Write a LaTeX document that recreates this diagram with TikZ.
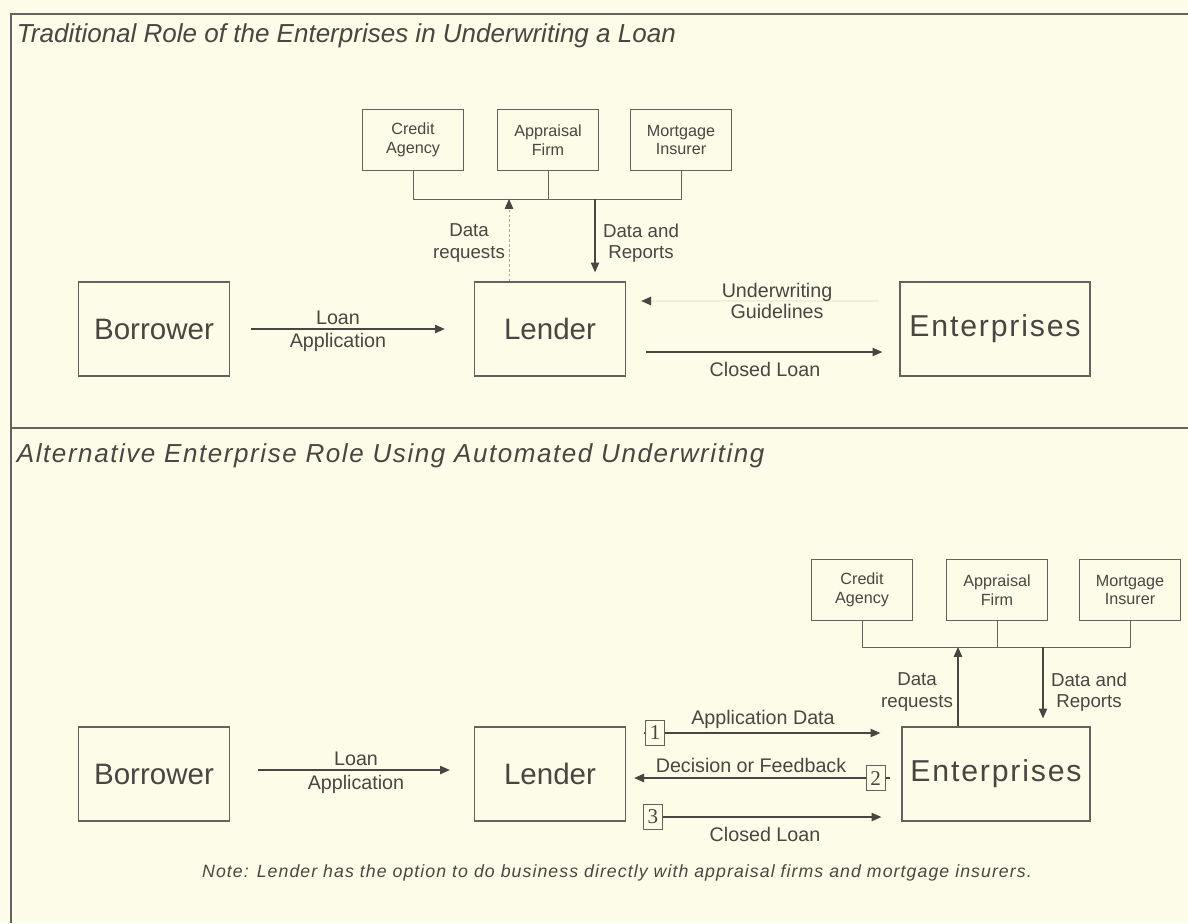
\documentclass[tikz,border=0pt]{standalone}
\usepackage{fontspec}
\setmainfont{Liberation Sans}
\newfontfamily\digitfont{Liberation Serif}
\newfontfamily\widefont[LetterSpace=6]{Liberation Sans}
\usepackage{xcolor}
\usetikzlibrary{arrows.meta}
\definecolor{paper}{HTML}{FDFCE9}
\definecolor{ink}{HTML}{4A4541}
\definecolor{rule}{HTML}{66615C}
\definecolor{pale}{HTML}{A9A59C}
\definecolor{ghost}{HTML}{F1EFDC}
\tikzset{
  bigbox/.style={draw=rule, line width=0.9pt, text=ink, font=\fontsize{21}{24}\selectfont},
  widebox/.style={bigbox, font=\widefont\fontsize{21.5}{24}\selectfont},
  smallbox/.style={draw=rule, line width=0.8pt, text=ink, align=center,
    minimum width=2.525cm, minimum height=1.525cm, font=\fontsize{11.5}{13.5}\selectfont},
  numbox/.style={draw=rule, line width=0.8pt, fill=paper, text=ink, inner sep=0pt,
    minimum width=0.475cm, minimum height=0.625cm, font=\digitfont\fontsize{15}{15}\selectfont},
  link/.style={draw=rule, line width=0.7pt},
  flow/.style={draw=ink, line width=0.8pt, -{Triangle[length=7pt,width=6pt]}},
  faintflow/.style={draw=pale, line width=0.7pt, dash pattern=on 2pt off 1.5pt,
    -{Triangle[length=7pt,width=6pt,color=ink]}},
  lab/.style={text=ink, align=center, font=\fontsize{14}{15.5}\selectfont},
  datalab/.style={text=ink, align=center, font=\fontsize{13.3}{15}\selectfont},
  heading/.style={text=ink, anchor=west, font=\itshape\fontsize{18.5}{20}\selectfont},
  note/.style={text=ink, font=\widefont\itshape\fontsize{12.6}{14}\selectfont},
}

\begin{document}
\begin{tikzpicture}[x=0.025cm, y=-0.025cm]
  \useasboundingbox (0,0) rectangle (1188,923);
  \fill[paper] (0,0) rectangle (1188,923);

  % frame and panel divider
  \draw[rule, line width=0.9pt] (1188,14) -- (11,14) -- (11,923);
  \draw[rule, line width=0.9pt] (11,428) -- (1188,428);

  % ---- traditional role ----
  \node[heading] (headA) at (12,36) {Traditional Role of the Enterprises in Underwriting a Loan};

  \node[bigbox, minimum width=3.775cm, minimum height=2.35cm] (borrowerA) at (154,329) {Borrower};
  \node[bigbox, minimum width=3.775cm, minimum height=2.35cm] (lenderA) at (550,329) {Lender};
  \node[widebox, minimum width=4.75cm, minimum height=2.35cm] (enterA) at (995,329) {Enterprises};

  \node[smallbox] (creditA) at (413,140) {Credit\\Agency};
  \node[smallbox] (apprA) at (548,140) {Appraisal\\Firm};
  \node[smallbox] (mortA) at (681,140) {Mortgage\\Insurer};

  \coordinate (busA) at (0,199);
  \draw[link] (creditA.south) -- (creditA.south |- busA) -- (mortA.south |- busA) -- (mortA.south);
  \draw[link] (apprA.south) -- (apprA.south |- busA);

  \coordinate (reqA) at ([xshift=-1.025cm]lenderA.north);
  \coordinate (repA) at ([xshift=1.125cm]lenderA.north);
  \draw[faintflow] (reqA) -- (reqA |- busA);
  \draw[flow] (repA |- busA) -- ([yshift=0.225cm]repA);
  \node[datalab] (reqlabA) at (469,243) {Data\\requests};
  \node[datalab] (replabA) at (641,243) {Data and\\Reports};

  \draw[flow, shorten <=0.525cm, shorten >=0.725cm] (borrowerA.east) -- (lenderA.west);
  \node[lab] (loanA) at (338,318) {Loan};
  \node[lab] (applA) at (338,342) {Application};

  \draw[flow, draw=ghost, -{Triangle[length=7pt,width=6pt,color=ink]},
        shorten <=0.5cm, shorten >=0.375cm]
    ([yshift=0.7cm]enterA.west) -- ([yshift=0.7cm]lenderA.east);
  \node[lab] (guideA) at (777,301) {Underwriting\\Guidelines};

  \draw[flow, shorten <=0.5cm, shorten >=0.425cm]
    ([yshift=-0.575cm]lenderA.east) -- ([yshift=-0.575cm]enterA.west);
  \node[lab] (closedA) at (765,369) {Closed Loan};

  % ---- automated underwriting ----
  \node[heading, font=\widefont\itshape\fontsize{18.5}{20}\selectfont] (headB) at (12,456)
    {Alternative Enterprise Role Using Automated Underwriting};

  \node[bigbox, minimum width=3.775cm, minimum height=2.35cm] (borrowerB) at (154,774) {Borrower};
  \node[bigbox, minimum width=3.775cm, minimum height=2.35cm] (lenderB) at (550,774) {Lender};
  \node[widebox, minimum width=4.7cm, minimum height=2.35cm] (enterB) at (996,774) {Enterprises};

  \node[smallbox] (creditB) at (862,590) {Credit\\Agency};
  \node[smallbox] (apprB) at (997,590) {Appraisal\\Firm};
  \node[smallbox] (mortB) at (1130,590) {Mortgage\\Insurer};

  \coordinate (busB) at (0,647);
  \draw[link] (creditB.south) -- (creditB.south |- busB) -- (mortB.south |- busB) -- (mortB.south);
  \draw[link] (apprB.south) -- (apprB.south |- busB);

  \coordinate (reqB) at ([xshift=-0.95cm]enterB.north);
  \coordinate (repB) at ([xshift=1.175cm]enterB.north);
  \draw[flow] (reqB) -- (reqB |- busB);
  \draw[flow] (repB |- busB) -- ([yshift=0.2cm]repB);
  \node[datalab] (reqlabB) at (917,692) {Data\\requests};
  \node[datalab] (replabB) at (1089,692) {Data and\\Reports};

  \draw[flow, shorten <=0.7cm, shorten >=0.6cm]
    ([yshift=0.1cm]borrowerB.east) -- ([yshift=0.1cm]lenderB.west);
  \node[lab] (loanB) at (356,759) {Loan};
  \node[lab] (applB) at (356,784) {Application};

  \draw[flow, shorten <=0.45cm, shorten >=0.525cm]
    ([yshift=1.025cm]lenderB.east) -- node[numbox, pos=0.105] (oneB) {1} ([yshift=1.025cm]enterB.west);
  \node[lab] (appdataB) at (763,719) {Application Data};

  \draw[flow, shorten <=0.275cm, shorten >=0.2cm]
    ([yshift=-0.1cm]enterB.west) -- node[numbox, pos=0.093] (twoB) {2} ([yshift=-0.1cm]lenderB.east);
  \node[lab] (decisionB) at (751,765) {Decision or Feedback};

  \draw[flow, shorten <=0.5cm, shorten >=0.5cm]
    ([yshift=-1.075cm]lenderB.east) -- node[numbox, pos=0.097] (threeB) {3} ([yshift=-1.075cm]enterB.west);
  \node[lab] (closedB) at (765,834) {Closed Loan};

  \node[note] (noteB) at (617,873) {Note: Lender has the option to do business directly with appraisal firms and mortgage insurers.};
\end{tikzpicture}
\end{document}
